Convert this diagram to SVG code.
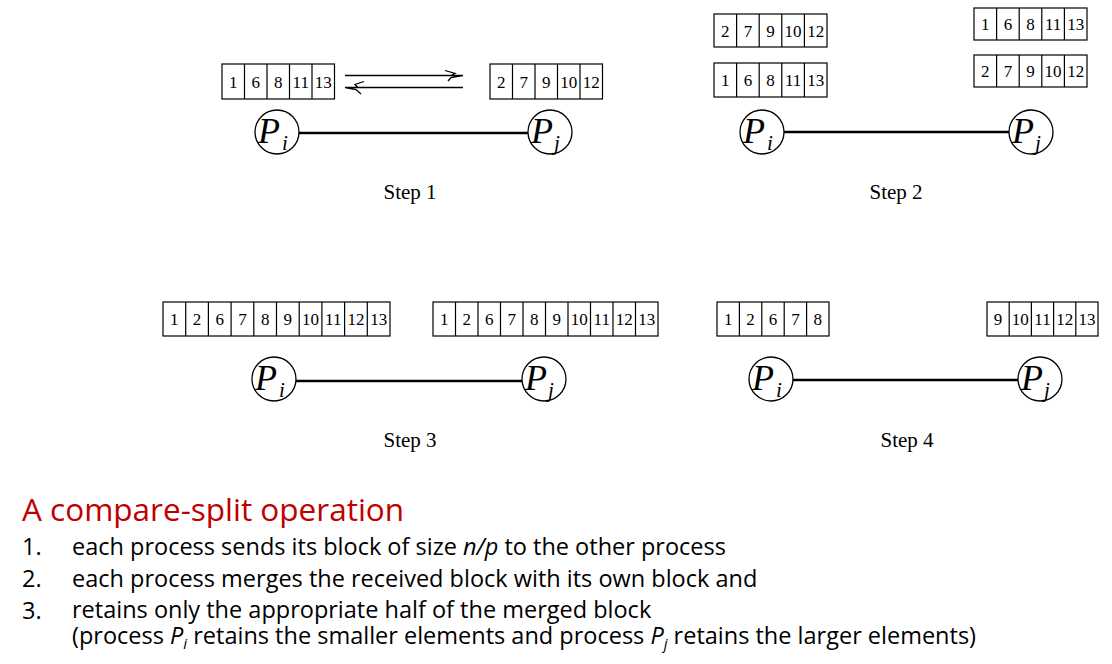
<svg xmlns="http://www.w3.org/2000/svg" width="1112" height="664" viewBox="0 0 1112 664">
  <defs>
    <style>
      .cell { fill: #fff; stroke: #000; stroke-width: 1.2; }
      .div { stroke: #000; stroke-width: 1.2; }
      .num { font-family: "Liberation Serif", serif; font-size: 17px; fill: #000; text-anchor: middle; }
      .proc { fill: #fff; stroke: #000; stroke-width: 1.3; }
      .pname { font-family: "Liberation Serif", serif; font-style: italic; font-size: 36px; fill: #000; }
      .psub { font-family: "Liberation Serif", serif; font-style: italic; font-size: 21px; fill: #000; }
      .link { stroke: #000; stroke-width: 2.6; fill: none; }
      .msg { stroke: #000; stroke-width: 1.3; fill: none; }
      .step { font-family: "Liberation Serif", serif; font-size: 21px; fill: #000; text-anchor: middle; }
      .title { font-family: "Open Sans", Lato, sans-serif; font-size: 31.5px; fill: #C00000; }
      .item { font-family: "Open Sans", Lato, sans-serif; font-size: 23.5px; fill: #000; }
      .it { font-style: italic; }
    </style>
  </defs>

  <!-- links between the two processes -->
  <g id="connectors">
    <line class="link" x1="299" y1="133" x2="528" y2="133"/>
    <line class="link" x1="784" y1="132" x2="1009" y2="132"/>
    <line class="link" x1="296" y1="381" x2="522" y2="381"/>
    <line class="link" x1="793" y1="380" x2="1018" y2="380"/>
    <!-- exchange of blocks in step 1 -->
    <path class="msg" d="M345,75.5 H463 M445,70.5 L455,73.5 L451,75.5 L463,75.5 L451,77.5 L448,81"/>
    <path class="msg" d="M345,87.5 H463 M364,81.5 L355,84.5 L358,87.5 L345,87.5 L356,89.5 L361,94"/>
  </g>

  <!-- Step 1 -->
  <g id="s1-block-i">
    <rect class="cell" x="222" y="64" width="112.5" height="35"/>
    <path class="div" d="M244.5,64V99M267,64V99M289.5,64V99M312,64V99"/>
    <text class="num" y="88"><tspan x="233.25">1</tspan><tspan x="255.75">6</tspan><tspan x="278.25">8</tspan><tspan x="300.75">11</tspan><tspan x="323.25">13</tspan></text>
  </g>
  <g id="s1-block-j">
    <rect class="cell" x="490" y="64" width="112.5" height="35"/>
    <path class="div" d="M512.5,64V99M535,64V99M557.5,64V99M580,64V99"/>
    <text class="num" y="88"><tspan x="501.25">2</tspan><tspan x="523.75">7</tspan><tspan x="546.25">9</tspan><tspan x="568.75">10</tspan><tspan x="591.25">12</tspan></text>
  </g>
  <g id="s1-pi">
    <circle class="proc" cx="277" cy="132" r="22"/>
    <text class="pname" x="258" y="143">P</text><text class="psub" x="282" y="150">i</text>
  </g>
  <g id="s1-pj">
    <circle class="proc" cx="550" cy="132" r="22"/>
    <text class="pname" x="531" y="143">P</text><text class="psub" x="554" y="150">j</text>
  </g>
  <text class="step" x="410" y="199">Step 1</text>

  <!-- Step 2 -->
  <g id="s2-recv-i">
    <rect class="cell" x="714" y="14" width="113" height="33"/>
    <path class="div" d="M736.6,14V47M759.2,14V47M781.8,14V47M804.4,14V47"/>
    <text class="num" y="37"><tspan x="725.3">2</tspan><tspan x="747.9">7</tspan><tspan x="770.5">9</tspan><tspan x="793.1">10</tspan><tspan x="815.7">12</tspan></text>
  </g>
  <g id="s2-own-i">
    <rect class="cell" x="714" y="63" width="113" height="34"/>
    <path class="div" d="M736.6,63V97M759.2,63V97M781.8,63V97M804.4,63V97"/>
    <text class="num" y="86"><tspan x="725.3">1</tspan><tspan x="747.9">6</tspan><tspan x="770.5">8</tspan><tspan x="793.1">11</tspan><tspan x="815.7">13</tspan></text>
  </g>
  <g id="s2-recv-j">
    <rect class="cell" x="974" y="8" width="113" height="32"/>
    <path class="div" d="M996.6,8V40M1019.2,8V40M1041.8,8V40M1064.4,8V40"/>
    <text class="num" y="30"><tspan x="985.3">1</tspan><tspan x="1007.9">6</tspan><tspan x="1030.5">8</tspan><tspan x="1053.1">11</tspan><tspan x="1075.7">13</tspan></text>
  </g>
  <g id="s2-own-j">
    <rect class="cell" x="974" y="55" width="113" height="32"/>
    <path class="div" d="M996.6,55V87M1019.2,55V87M1041.8,55V87M1064.4,55V87"/>
    <text class="num" y="77"><tspan x="985.3">2</tspan><tspan x="1007.9">7</tspan><tspan x="1030.5">9</tspan><tspan x="1053.1">10</tspan><tspan x="1075.7">12</tspan></text>
  </g>
  <g id="s2-pi">
    <circle class="proc" cx="762" cy="132" r="22"/>
    <text class="pname" x="743" y="143">P</text><text class="psub" x="767" y="150">i</text>
  </g>
  <g id="s2-pj">
    <circle class="proc" cx="1031" cy="132" r="22"/>
    <text class="pname" x="1012" y="143">P</text><text class="psub" x="1035" y="150">j</text>
  </g>
  <text class="step" x="896" y="199">Step 2</text>

  <!-- Step 3 -->
  <g id="s3-merged-i">
    <rect class="cell" x="163" y="302" width="227" height="34"/>
    <path class="div" d="M185.7,302V336M208.4,302V336M231.1,302V336M253.8,302V336M276.5,302V336M299.2,302V336M321.9,302V336M344.6,302V336M367.3,302V336"/>
    <text class="num" y="325"><tspan x="174.35">1</tspan><tspan x="197.05">2</tspan><tspan x="219.75">6</tspan><tspan x="242.45">7</tspan><tspan x="265.15">8</tspan><tspan x="287.85">9</tspan><tspan x="310.55">10</tspan><tspan x="333.25">11</tspan><tspan x="355.95">12</tspan><tspan x="378.65">13</tspan></text>
  </g>
  <g id="s3-merged-j">
    <rect class="cell" x="433" y="302" width="225" height="34"/>
    <path class="div" d="M455.5,302V336M478,302V336M500.5,302V336M523,302V336M545.5,302V336M568,302V336M590.5,302V336M613,302V336M635.5,302V336"/>
    <text class="num" y="325"><tspan x="444.25">1</tspan><tspan x="466.75">2</tspan><tspan x="489.25">6</tspan><tspan x="511.75">7</tspan><tspan x="534.25">8</tspan><tspan x="556.75">9</tspan><tspan x="579.25">10</tspan><tspan x="601.75">11</tspan><tspan x="624.25">12</tspan><tspan x="646.75">13</tspan></text>
  </g>
  <g id="s3-pi">
    <circle class="proc" cx="274" cy="379" r="22"/>
    <text class="pname" x="255" y="390">P</text><text class="psub" x="279" y="397">i</text>
  </g>
  <g id="s3-pj">
    <circle class="proc" cx="544" cy="379" r="22"/>
    <text class="pname" x="525" y="390">P</text><text class="psub" x="548" y="397">j</text>
  </g>
  <text class="step" x="410" y="447">Step 3</text>

  <!-- Step 4 -->
  <g id="s4-kept-i">
    <rect class="cell" x="717" y="302" width="112" height="34"/>
    <path class="div" d="M739.4,302V336M761.8,302V336M784.2,302V336M806.6,302V336"/>
    <text class="num" y="325"><tspan x="728.2">1</tspan><tspan x="750.6">2</tspan><tspan x="773">6</tspan><tspan x="795.4">7</tspan><tspan x="817.8">8</tspan></text>
  </g>
  <g id="s4-kept-j">
    <rect class="cell" x="987" y="302" width="111" height="34"/>
    <path class="div" d="M1009.2,302V336M1031.4,302V336M1053.6,302V336M1075.8,302V336"/>
    <text class="num" y="325"><tspan x="998.1">9</tspan><tspan x="1020.3">10</tspan><tspan x="1042.5">11</tspan><tspan x="1064.7">12</tspan><tspan x="1086.9">13</tspan></text>
  </g>
  <g id="s4-pi">
    <circle class="proc" cx="771" cy="379" r="22"/>
    <text class="pname" x="752" y="390">P</text><text class="psub" x="776" y="397">i</text>
  </g>
  <g id="s4-pj">
    <circle class="proc" cx="1040" cy="379" r="22"/>
    <text class="pname" x="1021" y="390">P</text><text class="psub" x="1044" y="397">j</text>
  </g>
  <text class="step" x="907" y="447">Step 4</text>

  <!-- caption -->
  <g id="caption">
    <text class="title" x="22" y="521">A compare-split operation</text>
    <text class="item" x="22" y="555">1.</text>
    <text class="item" x="72" y="555">each process sends its block of size <tspan class="it">n/p</tspan> to the other process</text>
    <text class="item" x="22" y="587">2.</text>
    <text class="item" x="72" y="587">each process merges the received block with its own block and</text>
    <text class="item" x="22" y="619">3.</text>
    <text class="item" x="72" y="618">retains only the appropriate half of the merged block</text>
    <text class="item" x="72" y="644">(process <tspan class="it">P</tspan><tspan class="it" font-size="15" dy="5">i</tspan><tspan dy="-5"> retains the smaller elements and process </tspan><tspan class="it">P</tspan><tspan class="it" font-size="15" dy="5">j</tspan><tspan dy="-5"> retains the larger elements)</tspan></text>
  </g>
</svg>
